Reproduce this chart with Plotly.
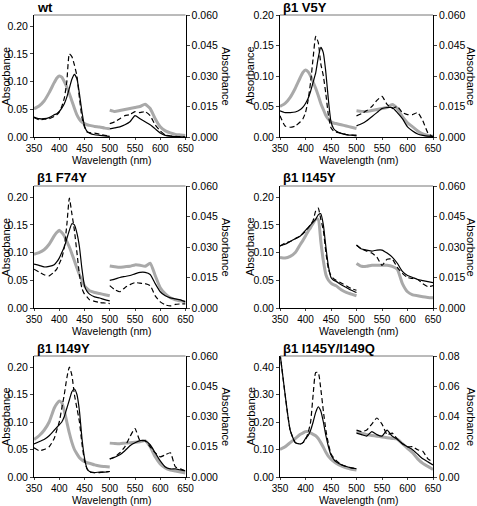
import plotly.graph_objects as go

# ---------------- data ----------------
WL_L = [350, 360, 370, 380, 390, 395, 400, 405, 410, 415, 420, 425, 430, 435, 440,
        445, 450, 455, 460, 470, 480, 490, 500]
WL_R = [500, 510, 520, 530, 540, 550, 560, 570, 580, 590, 600, 610, 620, 630, 640, 650]

TITLES = ["wt", "β1 V5Y", "β1 F74Y", "β1 I145Y", "β1 I149Y", "β1 I145Y/I149Q"]

# wt
WT_GRAY_L = [.051, .056, .065, .08, .098, .106, .11, .108, .1, .09, .078, .065, .052, .04, .032,
             .027, .024, .022, .021, .019, .018, .016, .015]
WT_SOLID_L = [.036, .033, .033, .035, .04, .042, .046, .052, .06, .072, .088, .104, .113, .105, .078,
              .045, .02, .01, .007, .004, .003, .002, .001]
WT_DASH_L = [.035, .031, .032, .033, .037, .04, .045, .055, .07, .1, .15, .145, .13, .11, .07,
             .035, .018, .009, .008, .007, .005, .003, .002]
WT_GRAY_R = [.0132, .0125, .013, .0135, .014, .0145, .015, .0161, .014, .009, .005, .003, .002, .0013, .001, .0007]
WT_SOLID_R = [.004, .0045, .005, .006, .0075, .0105, .009, .0075, .006, .004, .002, .0008, .0004, .0002, .0001, 0]
WT_DASH_R = [.0066, .0075, .009, .0105, .011, .0125, .012, .0125, .0105, .006, .003, .001, .0005, .0003, .0002, 0]

# beta1 V5Y
V5Y_GRAY_L = [.05, .055, .065, .08, .098, .106, .11, .107, .1, .09, .08, .068, .055, .045, .035,
              .029, .025, .023, .022, .02, .018, .016, .014]
V5Y_SOLID_L = [.043, .04, .04, .041, .045, .049, .055, .063, .075, .09, .105, .13, .147, .138, .105,
               .06, .025, .014, .01, .006, .004, .003, .003]
V5Y_DASH_L = [.035, .018, .016, .018, .025, .03, .04, .06, .09, .13, .165, .155, .12, .1, .07,
              .035, .015, .01, .008, .006, .004, .003, .002]
V5Y_GRAY_R = [.0129, .0126, .0125, .013, .0135, .014, .0145, .016, .014, .01, .007, .005, .003, .0015, .0007, .0003]
V5Y_SOLID_R = [.0055, .0065, .008, .01, .012, .014, .0145, .0145, .012, .009, .005, .003, .0015, .0008, .0004, .0003]
V5Y_DASH_R = [.0104, .0115, .013, .015, .018, .02, .016, .014, .015, .012, .011, .011, .012, .008, .002, 0]

# beta1 F74Y
F74Y_GRAY_L = [.097, .1, .105, .115, .13, .136, .14, .136, .13, .12, .11, .098, .085, .072, .06,
               .05, .04, .035, .031, .028, .026, .024, .022]
F74Y_SOLID_L = [.079, .077, .074, .075, .078, .083, .09, .1, .11, .125, .14, .152, .15, .135, .11,
                .07, .04, .03, .025, .02, .018, .015, .013]
F74Y_DASH_L = [.07, .065, .06, .058, .065, .07, .08, .09, .11, .15, .198, .17, .14, .1, .06,
               .035, .025, .02, .015, .012, .01, .009, .008]
F74Y_GRAY_R = [.0207, .0203, .02, .0203, .0205, .0212, .021, .0205, .022, .016, .01, .007, .005, .004, .0035, .003]
F74Y_SOLID_R = [.0136, .0142, .015, .0155, .016, .0168, .0175, .0175, .0165, .012, .008, .006, .005, .0045, .004, .003]
F74Y_DASH_R = [.011, .009, .008, .01, .0115, .0125, .0122, .012, .011, .006, .003, .0015, .001, .0018, .002, .002]

# beta1 I145Y
I145Y_GRAY_L = [.091, .09, .093, .1, .115, .122, .13, .138, .145, .153, .16, .16, .12, .085, .06,
                .05, .045, .042, .04, .033, .028, .025, .022]
I145Y_SOLID_L = [.112, .115, .12, .125, .13, .135, .14, .145, .15, .155, .16, .168, .17, .15, .11,
                 .075, .055, .05, .048, .042, .037, .032, .028]
I145Y_DASH_L = [.112, .117, .12, .125, .13, .134, .138, .144, .15, .158, .175, .18, .16, .14, .1,
                .07, .058, .053, .05, .045, .04, .035, .032]
I145Y_GRAY_R = [.0219, .0205, .0205, .021, .021, .021, .021, .0205, .019, .012, .008, .0065, .006, .0055, .0052, .005]
I145Y_SOLID_R = [.0309, .029, .0285, .028, .0285, .0285, .027, .025, .022, .018, .016, .015, .014, .0135, .013, .0125]
I145Y_DASH_R = [.031, .029, .028, .027, .025, .021, .024, .024, .02, .017, .015, .0145, .014, .012, .0105, .011]

# beta1 I149Y
I149Y_GRAY_L = [.068, .075, .085, .1, .125, .133, .138, .135, .12, .1, .08, .063, .05, .042, .035,
                .031, .028, .026, .025, .022, .02, .019, .018]
I149Y_SOLID_L = [.06, .064, .068, .075, .085, .09, .095, .1, .11, .125, .14, .155, .16, .15, .12,
                 .07, .035, .015, .01, .008, .009, .009, .01]
I149Y_DASH_L = [.053, .048, .05, .055, .07, .085, .1, .125, .15, .18, .2, .185, .15, .125, .1,
                .06, .03, .015, .009, .008, .008, .009, .01]
I149Y_GRAY_R = [.0168, .0166, .0165, .0168, .017, .0172, .0175, .018, .015, .01, .0065, .0045, .0035, .003, .0025, .002]
I149Y_SOLID_R = [.0089, .0098, .011, .013, .0155, .017, .018, .018, .016, .012, .008, .005, .004, .004, .0035, .003]
I149Y_DASH_R = [.009, .01, .012, .015, .02, .024, .018, .018, .015, .012, .01, .011, .012, .005, .004, .003]

# beta1 I145Y/I149Q
DM_GRAY_L = [.10, .11, .125, .14, .155, .16, .165, .165, .16, .155, .15, .14, .125, .108, .09,
             .075, .065, .057, .05, .04, .033, .028, .025]
DM_SOLID_L = [.45, .30, .17, .125, .12, .125, .14, .15, .17, .2, .235, .255, .24, .2, .15,
              .11, .08, .065, .055, .045, .038, .033, .03]
DM_DASH_L = [.45, .30, .17, .125, .12, .125, .135, .16, .2, .3, .38, .38, .32, .24, .17,
             .12, .085, .07, .06, .045, .038, .033, .03]
DM_GRAY_R = [.030, .029, .028, .0275, .027, .0265, .026, .0255, .025, .022, .019, .016, .012, .009, .007, .005]
DM_SOLID_R = [.029, .028, .027, .03, .028, .027, .031, .027, .025, .022, .02, .018, .015, .012, .010, .008]
DM_DASH_R = [.031, .03, .031, .035, .039, .035, .028, .029, .025, .022, .02, .02, .018, .017, .012, .01]

X_TICKS = [350, 400, 450, 500, 550, 600, 650]

PANELS = [
    (WT_GRAY_L, WT_SOLID_L, WT_DASH_L, WT_GRAY_R, WT_SOLID_R, WT_DASH_R),
    (V5Y_GRAY_L, V5Y_SOLID_L, V5Y_DASH_L, V5Y_GRAY_R, V5Y_SOLID_R, V5Y_DASH_R),
    (F74Y_GRAY_L, F74Y_SOLID_L, F74Y_DASH_L, F74Y_GRAY_R, F74Y_SOLID_R, F74Y_DASH_R),
    (I145Y_GRAY_L, I145Y_SOLID_L, I145Y_DASH_L, I145Y_GRAY_R, I145Y_SOLID_R, I145Y_DASH_R),
    (I149Y_GRAY_L, I149Y_SOLID_L, I149Y_DASH_L, I149Y_GRAY_R, I149Y_SOLID_R, I149Y_DASH_R),
    (DM_GRAY_L, DM_SOLID_L, DM_DASH_L, DM_GRAY_R, DM_SOLID_R, DM_DASH_R),
]

LEFT_RANGE = [[0, 0.22], [0, 0.20], [0, 0.22], [0, 0.22], [0, 0.22], [0, 0.44]]
LEFT_DTICK = [0.05, 0.05, 0.05, 0.05, 0.05, 0.10]
RIGHT_RANGE = [[0, 0.06]] * 5 + [[0, 0.08]]
RIGHT_DTICK = [0.015] * 5 + [0.02]
RIGHT_FMT = [".3f"] * 5 + [".2f"]

# ---------------- layout geometry (px) ----------------
W, H = 477, 506
COLS = [(34, 185.5), (280, 433)]
ROWS = [(15, 137), (186, 308), (356, 477)]
XTITLE_OFFSET = [23, 23, 22.5]

FONT = "Liberation Sans, Arial, sans-serif"
GRAY = "#a9a9a9"
TICK_FONT = dict(size=10.5, family=FONT)
XTICK_FONT = dict(size=10, family=FONT)

fig = go.Figure()
layout = dict(width=W, height=H, margin=dict(l=0, r=0, t=0, b=0, autoexpand=False),
              paper_bgcolor="white", plot_bgcolor="white", showlegend=False,
              font=dict(family=FONT, size=11, color="black"))
annotations = []
shapes = []

for i, series in enumerate(PANELS):
    r, c = divmod(i, 2)
    x0, x1 = COLS[c]
    yt, yb = ROWS[r]
    xn = "" if i == 0 else str(i + 1)
    yl = "" if i == 0 else str(2 * i + 1)
    yr = str(2 * i + 2)
    xd = [x0 / W, x1 / W]
    yd = [1 - yb / H, 1 - yt / H]

    layout["xaxis" + xn] = dict(domain=xd, anchor="y" + yl, range=[350, 650],
                                tickvals=X_TICKS, ticks="outside", ticklen=2,
                                showline=True, linecolor="black", linewidth=1,
                                showgrid=False, zeroline=False, automargin=False,
                                tickfont=XTICK_FONT)
    layout["yaxis" + yl] = dict(domain=yd, anchor="x" + xn, range=LEFT_RANGE[i],
                                dtick=LEFT_DTICK[i], tick0=0, tickformat=".2f",
                                ticks="outside", ticklen=3, showline=True,
                                linecolor="black", linewidth=1, showgrid=False,
                                zeroline=False, automargin=False, tickfont=TICK_FONT)
    layout["yaxis" + yr] = dict(domain=yd, anchor="x" + xn, overlaying="y" + yl,
                                side="right", range=RIGHT_RANGE[i], dtick=RIGHT_DTICK[i],
                                tick0=0, tickformat=RIGHT_FMT[i], ticks="outside",
                                ticklen=3, showline=True, linecolor="black",
                                linewidth=1, showgrid=False, zeroline=False,
                                automargin=False, tickfont=TICK_FONT)

    gl, sl, dl, gr, sr, dr = series
    styles = [dict(color=GRAY, width=3), dict(color="black", width=1.2),
              dict(color="black", width=1.2, dash="5px,3px")]
    for vals, st in zip((gl, sl, dl), styles):
        fig.add_trace(go.Scatter(x=WL_L, y=vals, mode="lines",
                                 line=dict(shape="spline", smoothing=0.5, **st),
                                 xaxis="x" + xn, yaxis="y" + yl, hoverinfo="skip"))
    for vals, st in zip((gr, sr, dr), styles):
        fig.add_trace(go.Scatter(x=WL_R, y=vals, mode="lines",
                                 line=dict(shape="spline", smoothing=0.5, **st),
                                 xaxis="x" + xn, yaxis="y" + yr, hoverinfo="skip"))

    # top frame line (lighter)
    shapes.append(dict(type="line", xref="paper", yref="paper", x0=xd[0], x1=xd[1],
                       y0=yd[1], y1=yd[1], line=dict(color="#777777", width=1)))

    # panel title
    annotations.append(dict(text="<b>%s</b>" % TITLES[i], x=(x0 + 1) / W, y=1 - (yt - 8) / H,
                            xref="paper", yref="paper", xanchor="left", yanchor="middle",
                            showarrow=False, font=dict(size=13, family=FONT)))
    ymid = 1 - ((yt + yb) / 2) / H
    lx = 5.5 if c == 0 else 250
    annotations.append(dict(text="Absorbance", x=lx / W, y=ymid, xref="paper", yref="paper",
                            textangle=-90, showarrow=False, xanchor="center", yanchor="middle",
                            font=dict(size=11, family=FONT)))
    rx = 226 if c == 0 else 471
    annotations.append(dict(text="Absorbance", x=rx / W, y=ymid, xref="paper", yref="paper",
                            textangle=90, showarrow=False, xanchor="center", yanchor="middle",
                            font=dict(size=11, family=FONT)))
    annotations.append(dict(text="Wavelength (nm)", x=((x0 + x1) / 2 + 2) / W,
                            y=1 - (yb + XTITLE_OFFSET[r]) / H, xref="paper", yref="paper",
                            showarrow=False, xanchor="center", yanchor="middle",
                            font=dict(size=10.5, family=FONT)))

layout["annotations"] = annotations
layout["shapes"] = shapes
fig.update_layout(**layout)
fig.write_html("out.html", config={"displayModeBar": False},
               post_script="document.body.style.margin='0';document.body.style.overflow='hidden';")
